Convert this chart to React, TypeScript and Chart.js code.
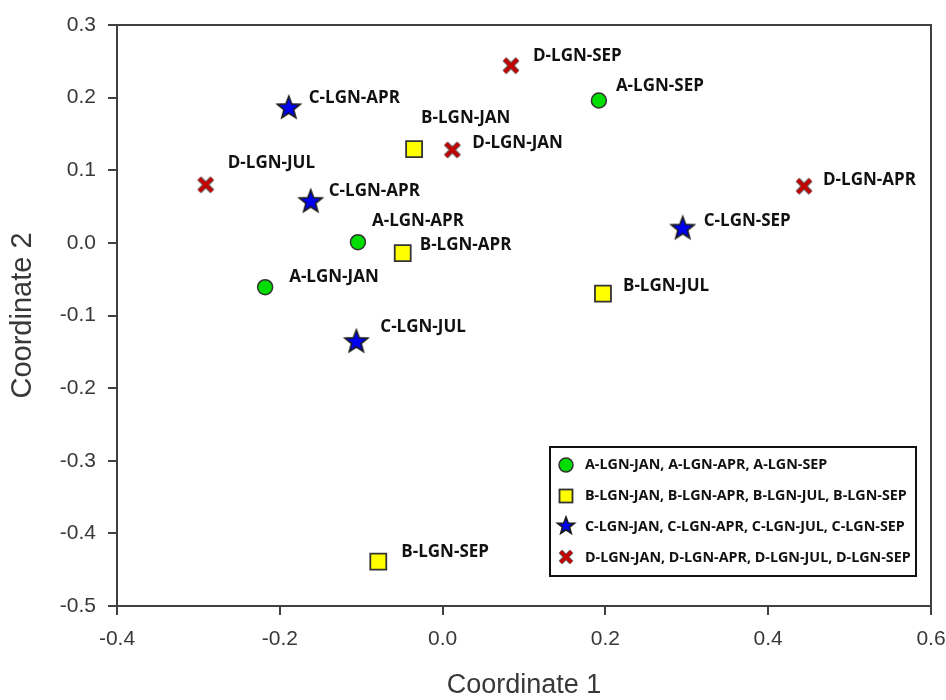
import React, { useEffect, useRef } from "react";
import { Chart, registerables } from "chart.js";

Chart.register(...registerables);

// ---- data ----
const aLabels = ["A-LGN-JAN", "A-LGN-APR", "A-LGN-SEP"];
const aX = [-0.218, -0.104, 0.192];
const aY = [-0.061, 0.001, 0.196];

const bLabels = ["B-LGN-JAN", "B-LGN-APR", "B-LGN-JUL", "B-LGN-SEP"];
const bX = [-0.035, -0.049, 0.197, -0.079];
const bY = [0.129, -0.014, -0.07, -0.439];

const cLabels = ["C-LGN-APR", "C-LGN-APR", "C-LGN-JUL", "C-LGN-SEP"];
const cX = [-0.189, -0.162, -0.106, 0.295];
const cY = [0.187, 0.058, -0.135, 0.021];

const dLabels = ["D-LGN-SEP", "D-LGN-JAN", "D-LGN-JUL", "D-LGN-APR"];
const dX = [0.084, 0.012, -0.291, 0.444];
const dY = [0.244, 0.128, 0.08, 0.078];

const legendLabels = [
  "A-LGN-JAN, A-LGN-APR, A-LGN-SEP",
  "B-LGN-JAN, B-LGN-APR, B-LGN-JUL, B-LGN-SEP",
  "C-LGN-JAN, C-LGN-APR, C-LGN-JUL, C-LGN-SEP",
  "D-LGN-JAN, D-LGN-APR, D-LGN-JUL, D-LGN-SEP",
];

const xTitle = "Coordinate 1";
const yTitle = "Coordinate 2";
const xMin = -0.4, xMax = 0.6, xStep = 0.2;
const yMin = -0.5, yMax = 0.3, yStep = 0.1;

// ---- layout (label offsets in px from the marker, not data) ----
const aOffsets = [[24, -10], [14, -21], [17, -14]];
const bOffsets = [[7, -31], [17, -8], [20, -8], [23, -10]];
const cOffsets = [[20, -9], [18, -10], [24, -14], [21, -6]];
const dOffsets = [[22, -10], [20, -7], [22, -22], [19, -6]];

const AXIS_COLOR = "#404040";
const TEXT_COLOR = "#383838";
const LABEL_FONT = "bold 17px 'Open Sans'";
const LEGEND_FONT = "bold 14.3px 'Open Sans'";

function toPoints(xs: number[], ys: number[]) {
  return xs.map((x, i) => ({ x, y: ys[i] }));
}

function drawStar(ctx: CanvasRenderingContext2D, cx: number, cy: number, R: number) {
  const r = R * 0.42;
  ctx.beginPath();
  for (let i = 0; i < 10; i++) {
    const ang = -Math.PI / 2 + (i * Math.PI) / 5;
    const rad = i % 2 === 0 ? R : r;
    const px = cx + rad * Math.cos(ang);
    const py = cy + rad * Math.sin(ang);
    if (i === 0) ctx.moveTo(px, py);
    else ctx.lineTo(px, py);
  }
  ctx.closePath();
  ctx.fillStyle = "#0000f0";
  ctx.fill();
  ctx.lineWidth = 1.6;
  ctx.strokeStyle = "#1a1a1a";
  ctx.lineJoin = "miter";
  ctx.stroke();
}

function drawCross(ctx: CanvasRenderingContext2D, cx: number, cy: number, h: number, w: number) {
  ctx.lineCap = "butt";
  const seg = () => {
    ctx.beginPath();
    ctx.moveTo(cx - h, cy - h);
    ctx.lineTo(cx + h, cy + h);
    ctx.moveTo(cx + h, cy - h);
    ctx.lineTo(cx - h, cy + h);
  };
  seg();
  ctx.lineWidth = w + 2;
  ctx.strokeStyle = "rgba(70,70,70,0.85)";
  ctx.stroke();
  seg();
  ctx.lineWidth = w;
  ctx.strokeStyle = "#c40000";
  ctx.stroke();
}

function drawCircle(ctx: CanvasRenderingContext2D, cx: number, cy: number, r: number) {
  ctx.beginPath();
  ctx.arc(cx, cy, r, 0, Math.PI * 2);
  ctx.fillStyle = "#00dd00";
  ctx.fill();
  ctx.lineWidth = 1.5;
  ctx.strokeStyle = "#333333";
  ctx.stroke();
}

function drawSquare(ctx: CanvasRenderingContext2D, cx: number, cy: number, s: number) {
  ctx.fillStyle = "#ffff00";
  ctx.fillRect(cx - s / 2, cy - s / 2, s, s);
  ctx.lineWidth = 1.8;
  ctx.strokeStyle = "#333333";
  ctx.strokeRect(cx - s / 2, cy - s / 2, s, s);
}

function makeImage(size: number, draw: (ctx: CanvasRenderingContext2D, c: number) => void) {
  const cv = document.createElement("canvas");
  cv.width = size;
  cv.height = size;
  const ctx = cv.getContext("2d")!;
  draw(ctx, size / 2);
  return cv;
}

export default function App() {
  const ref = useRef<HTMLCanvasElement | null>(null);

  useEffect(() => {
    document.body.style.margin = "0";
    const canvas = ref.current;
    if (!canvas) return;

    const starImg = makeImage(30, (ctx, c) => drawStar(ctx, c, c + 1, 12));
    const crossImg = makeImage(24, (ctx, c) => drawCross(ctx, c, c, 6.5, 3.6));

    const offsets = [aOffsets, bOffsets, cOffsets, dOffsets];
    const labels = [aLabels, bLabels, cLabels, dLabels];

    const frame = {
      id: "frame",
      beforeDatasetsDraw(chart: any) {
        const { ctx, chartArea } = chart;
        ctx.save();
        ctx.strokeStyle = AXIS_COLOR;
        ctx.lineWidth = 2;
        ctx.beginPath();
        ctx.moveTo(chartArea.left, chartArea.top);
        ctx.lineTo(chartArea.right, chartArea.top);
        ctx.lineTo(chartArea.right, chartArea.bottom);
        ctx.stroke();
        ctx.restore();
      },
    };

    const pointLabels = {
      id: "pointLabels",
      afterDatasetsDraw(chart: any) {
        const { ctx } = chart;
        ctx.save();
        ctx.font = LABEL_FONT;
        ctx.fillStyle = "#111111";
        ctx.textAlign = "left";
        ctx.textBaseline = "middle";
        chart.data.datasets.forEach((_: any, di: number) => {
          const meta = chart.getDatasetMeta(di);
          meta.data.forEach((el: any, i: number) => {
            const [dx, dy] = offsets[di][i];
            ctx.fillText(labels[di][i], el.x + dx, el.y + dy);
          });
        });
        ctx.restore();
      },
    };

    const boxLegend = {
      id: "boxLegend",
      afterDraw(chart: any) {
        const { ctx, chartArea } = chart;
        const right = chartArea.right - 15;
        const bottom = chartArea.bottom - 30;
        const left = right - 366;
        const top = bottom - 129;
        ctx.save();
        ctx.fillStyle = "#ffffff";
        ctx.fillRect(left, top, right - left, bottom - top);
        ctx.lineWidth = 2;
        ctx.strokeStyle = "#111111";
        ctx.strokeRect(left, top, right - left, bottom - top);
        const rows = [18, 49, 80, 111];
        const mx = left + 16;
        drawCircle(ctx, mx, top + rows[0], 7);
        drawSquare(ctx, mx, top + rows[1], 13);
        drawStar(ctx, mx, top + rows[2] - 1, 9);
        drawCross(ctx, mx, top + rows[3] - 1, 5.5, 3.2);
        ctx.font = LEGEND_FONT;
        ctx.fillStyle = "#111111";
        ctx.textAlign = "left";
        ctx.textBaseline = "middle";
        legendLabels.forEach((t, i) => {
          ctx.fillText(t, left + 35, top + rows[i]);
        });
        ctx.restore();
      },
    };

    const tickFont = { family: "'Liberation Sans', Arial, sans-serif", size: 21 };

    const chart = new Chart(canvas, {
      type: "scatter",
      data: {
        datasets: [
          {
            label: legendLabels[0],
            data: toPoints(aX, aY),
            pointStyle: "circle",
            pointRadius: 7.5,
            pointBackgroundColor: "#00dd00",
            pointBorderColor: "#333333",
            pointBorderWidth: 1.5,
          },
          {
            label: legendLabels[1],
            data: toPoints(bX, bY),
            pointStyle: "rect",
            pointRadius: 11.3,
            pointBackgroundColor: "#ffff00",
            pointBorderColor: "#333333",
            pointBorderWidth: 1.8,
          },
          {
            label: legendLabels[2],
            data: toPoints(cX, cY),
            pointStyle: starImg as any,
            pointRadius: 12,
          },
          {
            label: legendLabels[3],
            data: toPoints(dX, dY),
            pointStyle: crossImg as any,
            pointRadius: 9,
          },
        ],
      },
      options: {
        responsive: false,
        animation: false,
        devicePixelRatio: 1,
        layout: { padding: { top: 25, right: 0, left: 0, bottom: 0 } },
        plugins: {
          legend: { display: false },
          tooltip: { enabled: false },
        },
        scales: {
          x: {
            type: "linear",
            min: xMin,
            max: xMax,
            afterFit(scale: any) {
              scale.height = 94;
              scale.paddingRight = 15;
              scale.paddingLeft = 0;
            },
            ticks: {
              stepSize: xStep,
              padding: 12,
              color: TEXT_COLOR,
              font: tickFont,
              callback: (v: any) => Number(v).toFixed(1),
            },
            grid: {
              drawOnChartArea: false,
              drawTicks: true,
              tickLength: 9,
              color: AXIS_COLOR,
              lineWidth: 2,
            },
            border: { display: true, color: AXIS_COLOR, width: 2 },
            title: {
              display: true,
              text: xTitle,
              color: TEXT_COLOR,
              font: {
                family: "'Liberation Sans', Arial, sans-serif",
                size: 27,
                lineHeight: 1,
              },
              padding: { top: 0, bottom: 1 },
            },
          },
          y: {
            type: "linear",
            min: yMin,
            max: yMax,
            afterFit(scale: any) {
              scale.width = 117;
            },
            ticks: {
              stepSize: yStep,
              padding: 12,
              color: TEXT_COLOR,
              font: tickFont,
              callback: (v: any) => Number(v).toFixed(1),
            },
            grid: {
              drawOnChartArea: false,
              drawTicks: true,
              tickLength: 9,
              color: AXIS_COLOR,
              lineWidth: 2,
            },
            border: { display: true, color: AXIS_COLOR, width: 2 },
            title: {
              display: true,
              text: yTitle,
              color: TEXT_COLOR,
              font: {
                family: "'Liberation Sans', Arial, sans-serif",
                size: 29,
                lineHeight: 1,
              },
              padding: { top: 8, bottom: 0 },
            },
          },
        },
      },
      plugins: [frame, pointLabels, boxLegend],
    });

    return () => chart.destroy();
  }, []);

  return (
    <div style={{ width: 946, height: 700, background: "#ffffff" }}>
      <canvas ref={ref} width={946} height={700} style={{ display: "block" }} />
    </div>
  );
}
